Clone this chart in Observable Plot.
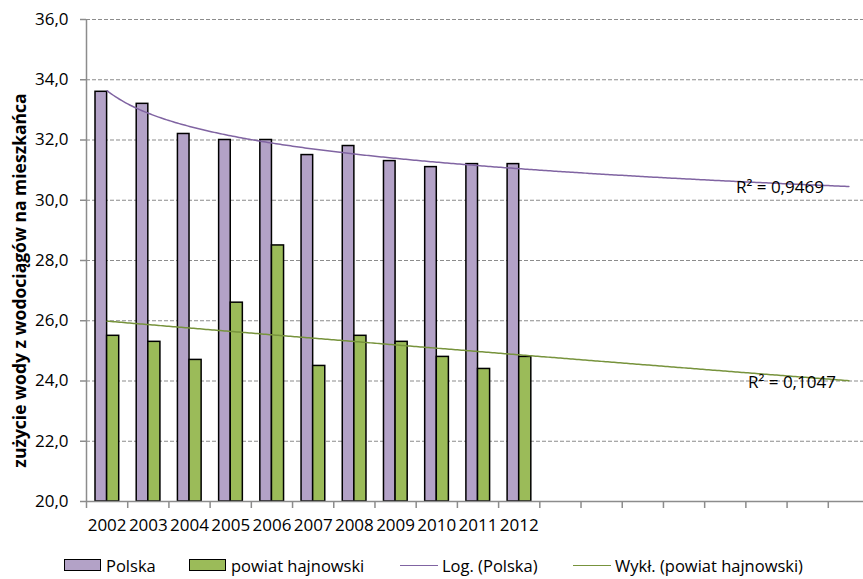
<!DOCTYPE html>
<html>
<head>
<meta charset="utf-8">
<script src="https://cdn.jsdelivr.net/npm/d3@7"></script>
<script src="https://cdn.jsdelivr.net/npm/@observablehq/plot@0.6"></script>
<style>
  html, body { margin: 0; padding: 0; background: #fff; overflow: hidden; width: 863px; height: 579px; }
  #chart svg { overflow: hidden; display: block; }
  .legend { position: relative; height: 34px; font-family: "Open Sans", sans-serif; font-size: 16.5px; color: #000; }
  .legend .item { position: absolute; top: 6px; display: flex; align-items: center; height: 28px; white-space: nowrap; }
  .legend .sw { width: 35px; height: 10px; border: 1.5px solid #000; margin-right: 5px; }
  .legend .ln { width: 38px; height: 0; border-top: 1.5px solid; margin-right: 4px; }
</style>
</head>
<body>
<div id="chart"></div>
<div class="legend" id="legend"></div>
<script>
const years = ["2002","2003","2004","2005","2006","2007","2008","2009","2010","2011","2012"];
const polska = [33.6, 33.2, 32.2, 32.0, 32.0, 31.5, 31.8, 31.3, 31.1, 31.2, 31.2];
const hajnowski = [25.5, 25.3, 24.7, 26.6, 28.5, 24.5, 25.5, 25.3, 24.8, 24.4, 24.8];
const seriesNames = ["Polska", "powiat hajnowski"];
const trendNames = ["Log. (Polska)", "Wykł. (powiat hajnowski)"];
const r2Labels = ["R² = 0,9469", "R² = 0,1047"];
const yTicks = [20, 22, 24, 26, 28, 30, 32, 34, 36];
const categoryCount = 19; // axis extended for trendline forecast
const yTitle = "zużycie wody z wodociągów na mieszkańca";

const colors = { polska: "#B3A2C7", hajn: "#9BBB59", trendP: "#8064A2", trendH: "#77933C", grid: "#8c8c8c" };
const FONT = "'Open Sans', sans-serif";

const rows = years.map((y, k) => ({ year: y, i: k + 1, polska: polska[k], hajn: hajnowski[k] }));

function linFit(xs, ys) {
  const n = xs.length, mx = d3.mean(xs), my = d3.mean(ys);
  let sxy = 0, sxx = 0;
  for (let k = 0; k < n; k++) { sxy += (xs[k]-mx)*(ys[k]-my); sxx += (xs[k]-mx)**2; }
  const a = sxy / sxx; return { a, b: my - a * mx };
}
const idx = rows.map(d => d.i);
const logFit = linFit(idx.map(Math.log), polska);          // Log. trend
const expFit = linFit(idx, hajnowski.map(Math.log));       // Wykł. trend
const trendX = d3.range(1, categoryCount + 0.001, 0.05);
const trendP = trendX.map(x => ({ x, y: logFit.a * Math.log(x) + logFit.b }));
const trendH = trendX.map(x => ({ x, y: Math.exp(expFit.b) * Math.exp(expFit.a * x) }));

const boundaries = d3.range(0.5, categoryCount + 0.51, 1);
const yMin = yTicks[0], yMax = yTicks[yTicks.length - 1];

const chart = Plot.plot({
  width: 863,
  height: 545,
  marginLeft: 86,
  marginRight: -6,
  marginTop: 19,
  marginBottom: 44,
  style: { fontFamily: FONT, fontSize: "17px", color: "#000", background: "#fff" },
  x: { type: "linear", domain: [0.5, categoryCount + 0.5], axis: null },
  y: { domain: [yMin, yMax], axis: null },
  marks: [
    Plot.ruleY(yTicks.filter(v => v > yMin), { stroke: colors.grid, strokeWidth: 1.2, strokeDasharray: "4,2" }),
    Plot.rectY(rows, { x1: d => d.i - 0.5, x2: d => d.i, y1: yMin, y2: "polska", fill: colors.polska, stroke: "#000", strokeWidth: 1.5, insetLeft: 9 }),
    Plot.rectY(rows, { x1: d => d.i, x2: d => d.i + 0.5, y1: yMin, y2: "hajn", fill: colors.hajn, stroke: "#000", strokeWidth: 1.5, insetRight: 8.5 }),
    Plot.line(trendP, { x: "x", y: "y", stroke: colors.trendP, strokeWidth: 1.5 }),
    Plot.line(trendH, { x: "x", y: "y", stroke: colors.trendH, strokeWidth: 1.5 }),
    Plot.text([trendP[trendP.length - 1]], { x: "x", y: "y", text: () => r2Labels[0], textAnchor: "end", dx: -25, dy: 1, fill: "#000", fontSize: 17 }),
    Plot.text([trendH[trendH.length - 1]], { x: "x", y: "y", text: () => r2Labels[1], textAnchor: "end", dx: -13, dy: 2, fill: "#000", fontSize: 17 }),
    Plot.ruleX([0.5], { y1: yMin, y2: yMax, stroke: colors.grid, strokeWidth: 1.5 }),
    Plot.ruleY([yMin], { stroke: colors.grid, strokeWidth: 1.5 }),
    Plot.axisY(yTicks, { tickSize: 6, tickPadding: 12, stroke: colors.grid, strokeWidth: 1.5, fill: "#000", tickFormat: d => d.toFixed(1).replace(".", ","), label: null, fontSize: 17 }),
    Plot.axisX(boundaries, { tickSize: 7, stroke: colors.grid, strokeWidth: 1.5, tickFormat: () => "", label: null }),
    Plot.axisX(idx, { tickSize: 0, tickPadding: 17, fill: "#000", tickFormat: i => years[i - 1], label: null, fontSize: 17 }),
    Plot.text([yTitle], { frameAnchor: "left", textAnchor: "middle", rotate: -90, dx: -66, dy: 20, fontWeight: "bold", fontSize: 17.5, fill: "#000" })
  ]
});
document.getElementById("chart").appendChild(chart);

const legend = document.getElementById("legend");
const items = [
  { left: 64, html: `<span class="sw" style="background:${colors.polska}"></span>${seriesNames[0]}` },
  { left: 189, html: `<span class="sw" style="background:${colors.hajn}"></span>${seriesNames[1]}` },
  { left: 400, html: `<span class="ln" style="border-color:${colors.trendP}"></span>${trendNames[0]}` },
  { left: 573, html: `<span class="ln" style="border-color:${colors.trendH}"></span>${trendNames[1]}` }
];
for (const it of items) {
  const d = document.createElement("div");
  d.className = "item"; d.style.left = it.left + "px"; d.innerHTML = it.html;
  legend.appendChild(d);
}
</script>
</body>
</html>
